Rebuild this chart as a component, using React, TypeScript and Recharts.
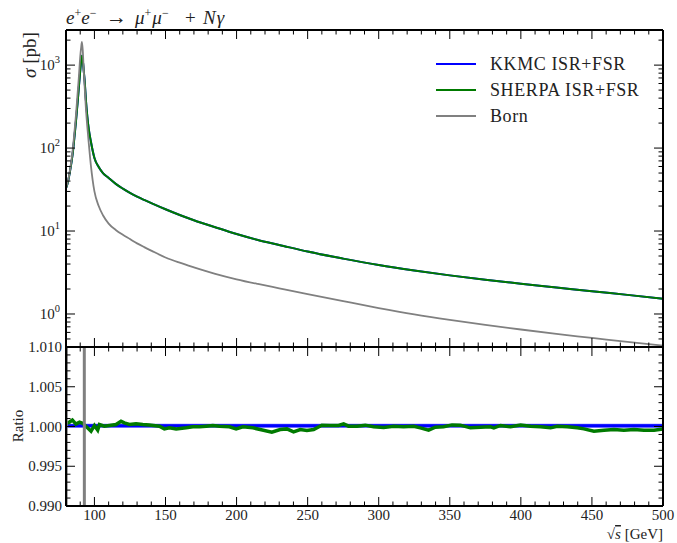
import { LineChart, ComposedChart, Line, Area, XAxis, YAxis, Legend, ReferenceLine } from 'recharts';

const FONT = "'Liberation Serif', 'DejaVu Serif', serif";

// sqrt(s) grid for the cross sections
const energies = [
  80, 81, 82, 83, 84, 85, 86, 87, 88, 89, 90, 90.6, 91.2, 91.8, 92.5, 93.2, 94, 95, 96, 97.5,
  100, 103, 106, 110, 115, 120, 125, 130, 135, 140, 150, 160, 170, 185, 200, 215, 230, 250,
  275, 300, 325, 350, 375, 400, 425, 450, 475, 500,
];
const bornXsec = [
  33, 38, 45, 57, 75, 105, 160, 250, 420, 700, 1250, 1600, 1900, 1500, 850, 520, 300, 180, 115, 62,
  30, 20, 15.5, 12.3, 10.3, 9.0, 8.0, 7.1, 6.4, 5.8, 4.8, 4.15, 3.65, 3.05, 2.62, 2.3, 2.04, 1.74,
  1.43, 1.18, 0.99, 0.85, 0.74, 0.65, 0.575, 0.515, 0.46, 0.415,
];
const sherpaXsec = [
  33, 37, 44, 55, 70, 95, 140, 210, 330, 530, 850, 1100, 1300, 1150, 850, 620, 380, 240, 170, 120,
  76, 59, 50, 43.6, 37, 32.4, 28.8, 26, 23.7, 21.7, 18.3, 15.6, 13.5, 11.1, 9.2, 7.8, 6.8, 5.65,
  4.65, 3.9, 3.35, 2.92, 2.58, 2.32, 2.09, 1.88, 1.7, 1.53,
];
// KKMC and SHERPA agree to the per-mille level, the curves lie on top of each other
const kkmcXsec = sherpaXsec;

// ratio panel
const sherpaRatioX = [
  80, 82, 84.5, 87, 89.5, 91.7, 95.3, 97.6, 100, 102.3, 103.5, 107, 110.5, 115.2, 118.7, 121, 124.6,
  129.3, 134, 138.7, 145.7, 149.2, 152.8, 157.5, 164.5, 169.2, 173.9, 178.6, 183.3, 188, 195, 199.7,
  204.4, 211.5, 216.6, 224.8, 230.7, 235.4, 240.1, 244.8, 249.5, 254.2, 260, 265.9, 271.8, 275.3,
  278.8, 284.7, 290.5, 296.4, 303.5, 310.5, 317.5, 324.6, 329.3, 335.1, 339.8, 345.7, 351.6, 357.4,
  364.5, 371.6, 378.6, 381, 385.7, 392.7, 399.8, 406.8, 413.8, 420.9, 425.6, 432.6, 439.7, 444.4,
  451.4, 458.5, 465.5, 472.5, 479.6, 486.6, 493.7, 500,
];
const sherpaRatio = [
  1.0004, 1.0005, 1.0008, 1.0003, 1.00055, 1.0004, 0.9998, 0.9994, 1.00013, 0.99954, 1.00025, 1.00004,
  1.00013, 1.00025, 1.00067, 1.00046, 1.00025, 1.00034, 1.00025, 1.0002, 1.00004, 0.9997, 0.99983,
  0.9997, 0.99983, 0.99996, 0.99996, 1.00004, 1.00013, 1.00004, 0.99996, 0.9997, 0.99996, 0.99983,
  0.99962, 0.99929, 0.99962, 0.9997, 0.99933, 0.99962, 0.9995, 0.99962, 1.00017, 1.00013, 1.00013,
  1.00034, 1.00004, 1.00004, 1.00017, 0.99996, 0.99987, 1.00004, 0.99996, 1.00004, 0.99983, 0.99954,
  0.99992, 0.99996, 1.0002, 1.00017, 0.99983, 0.99992, 0.99996, 0.99983, 1.00013, 0.99996, 1.0002,
  1.00004, 0.99996, 0.99983, 1.00004, 0.99996, 0.99983, 0.9997, 0.9994, 0.99954, 0.99962, 0.99954,
  0.99962, 0.99954, 0.99954, 0.9997,
];
const kkmcRatioX = [80, 500];
const kkmcRatio = [1.0001, 1.0001];
const kkmcRatioLo = [0.99985, 0.99985];
const kkmcRatioHi = [1.00036, 1.00036];
const bornRatioX = [80, 80.5, 85, 90, 92.5, 92.85, 92.95, 94, 100, 200, 500];
const bornRatio = [0.98, 1.03, 1.2, 1.4, 1.1, 1.02, 0.98, 0.8, 0.5, 0.27, 0.27];

// ticks
const xMinor = [
  90, 110, 120, 130, 140, 160, 170, 180, 190, 210, 220, 230, 240, 260, 270,
  280, 290, 310, 320, 330, 340, 360, 370, 380, 390, 410, 420, 430, 440, 460, 470, 480, 490,
];
const xMajor = [100, 150, 200, 250, 300, 350, 400, 450, 500];
const logMinor = [
  0.5, 0.6, 0.7, 0.8, 0.9, 2, 3, 4, 5, 6, 7, 8, 9, 20, 30, 40, 50, 60, 70, 80, 90,
  200, 300, 400, 500, 600, 700, 800, 900, 2000,
];
const logMajor = [1, 10, 100, 1000];
const logExponents = ['0', '1', '2', '3'];
const ratioMinor = [
  0.991, 0.992, 0.993, 0.994, 0.996, 0.997, 0.998, 0.999,
  1.001, 1.002, 1.003, 1.004, 1.006, 1.007, 1.008, 1.009,
];
const ratioMajor = [0.99, 0.995, 1.0, 1.005, 1.01];
const ratioLabels = ['0.990', '0.995', '1.000', '1.005', '1.010'];

const xsecRows = energies.map((x, i) => ({ x, born: bornXsec[i], sherpa: sherpaXsec[i], kkmc: kkmcXsec[i] }));
const sherpaRows = sherpaRatioX.map((x, i) => ({ x, r: sherpaRatio[i] }));
const kkmcRows = kkmcRatioX.map((x, i) => ({ x, r: kkmcRatio[i], band: [kkmcRatioLo[i], kkmcRatioHi[i]] }));
const bornRows = bornRatioX.map((x, i) => ({ x, r: bornRatio[i] }));

const BLUE = '#0000ff';
const GREEN = '#007a00';
const GREY = '#808080';
const TXT = '#222';
const MAJOR_LEN = 9;
const MINOR_LEN = 4.5;

const noLabel = () => <g />;

const xLabel = (props: any) => (
  <text x={props.x} y={Number(props.y) + 14} textAnchor="middle" fontSize={15} fontFamily={FONT} fill={TXT}>
    {props.payload.value}
  </text>
);

const logLabel = (props: any) => (
  <text x={Number(props.x) - 6} y={Number(props.y) + 5} textAnchor="end" fontSize={15} fontFamily={FONT} fill={TXT}>
    10<tspan dy={-7} fontSize={10.5}>{logExponents[logMajor.indexOf(props.payload.value)]}</tspan>
  </text>
);

const ratioLabel = (props: any) => (
  <text x={Number(props.x) - 4} y={Number(props.y) + 5} textAnchor="end" fontSize={15} fontFamily={FONT} fill={TXT}>
    {ratioLabels[props.index]}
  </text>
);

// inward tick marks: a reference line that only draws its two ends
const vTickShape = (len: number) => (p: any) => {
  const x = Number(p.x1);
  const top = Math.min(Number(p.y1), Number(p.y2));
  const bot = Math.max(Number(p.y1), Number(p.y2));
  return (
    <g>
      <line x1={x} x2={x} y1={top} y2={top + len} stroke="#000" strokeWidth={1} />
      <line x1={x} x2={x} y1={bot} y2={bot - len} stroke="#000" strokeWidth={1} />
    </g>
  );
};
const hTickShape = (len: number) => (p: any) => {
  const y = Number(p.y1);
  const lft = Math.min(Number(p.x1), Number(p.x2));
  const rgt = Math.max(Number(p.x1), Number(p.x2));
  return (
    <g>
      <line x1={lft} x2={lft + len} y1={y} y2={y} stroke="#000" strokeWidth={1} />
      <line x1={rgt} x2={rgt - len} y1={y} y2={y} stroke="#000" strokeWidth={1} />
    </g>
  );
};

const xTickMarks = () => [
  ...xMinor.map((v) => (
    <ReferenceLine key={`xm${v}`} xAxisId="bot" yAxisId="l" x={v} shape={vTickShape(MINOR_LEN)} />
  )),
  ...xMajor.map((v) => (
    <ReferenceLine key={`xM${v}`} xAxisId="bot" yAxisId="l" x={v} shape={vTickShape(MAJOR_LEN)} />
  )),
];
const yTickMarks = (minorVals: number[], majorVals: number[]) => [
  ...minorVals.map((v) => (
    <ReferenceLine key={`ym${v}`} xAxisId="bot" yAxisId="l" y={v} shape={hTickShape(MINOR_LEN)} />
  )),
  ...majorVals.map((v) => (
    <ReferenceLine key={`yM${v}`} xAxisId="bot" yAxisId="l" y={v} shape={hTickShape(MAJOR_LEN)} />
  )),
];

const LegendBox = ({ payload }: any) => (
  <div style={{ fontFamily: FONT, fontSize: 18, color: TXT, letterSpacing: 0.6 }}>
    {(payload || []).map((p: any) => (
      <div key={p.value} style={{ display: 'flex', alignItems: 'center', height: 26 }}>
        <span style={{ display: 'inline-block', width: 40, height: 2, background: p.color, marginRight: 14 }} />
        <span>{p.value}</span>
      </div>
    ))}
  </div>
);

const frame = { stroke: '#000', strokeWidth: 2 };
const axisCommon = { tickSize: 0, tickMargin: 0, tickLine: false, interval: 0 as const, axisLine: frame };

export default function App() {
  return (
    <div style={{ position: 'absolute', left: 0, top: 0, width: 677, height: 543, background: '#fff' }}>
      <LineChart
        width={677}
        height={347}
        data={xsecRows}
        margin={{ top: 0, right: 0, bottom: 0, left: 0 }}
        style={{ position: 'absolute', left: 0, top: 0 }}
      >
        <XAxis xAxisId="top" orientation="top" type="number" dataKey="x" domain={[80, 500]} allowDataOverflow
          ticks={xMajor} height={30} tick={noLabel} {...axisCommon} />
        <XAxis xAxisId="bot" type="number" dataKey="x" domain={[80, 500]} allowDataOverflow
          ticks={xMajor} height={0} tick={noLabel} {...axisCommon} />
        <YAxis yAxisId="l" scale="log" type="number" domain={[0.4, 2650]} allowDataOverflow
          ticks={logMajor} width={66} tick={logLabel} {...axisCommon} />
        <YAxis yAxisId="r" orientation="right" scale="log" type="number" domain={[0.4, 2650]} allowDataOverflow
          ticks={logMajor} width={14} tick={noLabel} {...axisCommon} />
        <Line xAxisId="bot" yAxisId="l" dataKey="kkmc" name="KKMC ISR+FSR" type="monotone" stroke={BLUE}
          strokeWidth={2} dot={false} isAnimationActive={false} />
        <Line xAxisId="bot" yAxisId="l" dataKey="sherpa" name="SHERPA ISR+FSR" type="monotone" stroke={GREEN}
          strokeWidth={2} dot={false} isAnimationActive={false} />
        <Line xAxisId="bot" yAxisId="l" dataKey="born" name="Born" type="monotone" stroke={GREY}
          strokeWidth={1.8} dot={false} isAnimationActive={false} />
        {xTickMarks()}
        {yTickMarks(logMinor, logMajor)}
        <Legend layout="vertical" align="center" verticalAlign="middle" content={LegendBox}
          itemSorter={null as any}
          wrapperStyle={{ position: 'absolute', left: 436, top: 51, width: 230, height: 80 }} />
      </LineChart>

      <ComposedChart
        width={677}
        height={543}
        margin={{ top: 0, right: 0, bottom: 0, left: 0 }}
        style={{ position: 'absolute', left: 0, top: 0 }}
      >
        <XAxis xAxisId="top" orientation="top" type="number" dataKey="x" domain={[80, 500]} allowDataOverflow
          ticks={xMajor} height={347} tick={noLabel} {...axisCommon} />
        <XAxis xAxisId="bot" type="number" dataKey="x" domain={[80, 500]} allowDataOverflow
          ticks={xMajor} height={37} tick={xLabel} {...axisCommon} />
        <YAxis yAxisId="l" type="number" domain={[0.99, 1.01]} allowDataOverflow
          ticks={ratioMajor} width={66} tick={ratioLabel} {...axisCommon} />
        <YAxis yAxisId="r" orientation="right" type="number" domain={[0.99, 1.01]} allowDataOverflow
          ticks={ratioMajor} width={14} tick={noLabel} {...axisCommon} />
        <Area xAxisId="bot" yAxisId="l" data={kkmcRows} dataKey="band" type="linear" stroke="none"
          fill="#6f6fff" fillOpacity={1} isAnimationActive={false} />
        <Line xAxisId="bot" yAxisId="l" data={kkmcRows} dataKey="r" type="linear" stroke={BLUE}
          strokeWidth={3} dot={false} isAnimationActive={false} />
        <Line xAxisId="bot" yAxisId="l" data={sherpaRows} dataKey="r" type="linear" stroke={GREEN}
          strokeWidth={3.5} dot={false} isAnimationActive={false} />
        <Line xAxisId="bot" yAxisId="l" data={bornRows} dataKey="r" type="linear" stroke={GREY}
          strokeWidth={3} dot={false} isAnimationActive={false} />
        {xTickMarks()}
        {yTickMarks(ratioMinor, ratioMajor)}
      </ComposedChart>

      <svg width={677} height={543} style={{ position: 'absolute', left: 0, top: 0, pointerEvents: 'none' }}>
        <text y={24} fontSize={19} fontFamily={FONT} fill={TXT}>
          <tspan x={66} fontStyle="italic">e</tspan><tspan dy={-7} fontSize={12}>+</tspan>
          <tspan dy={7} fontStyle="italic">e</tspan><tspan dy={-7} fontSize={12}>−</tspan>
          <tspan x={106} dy={7} fontSize={21}>→</tspan>
          <tspan x={135} fontStyle="italic">μ</tspan><tspan dy={-7} fontSize={12}>+</tspan>
          <tspan dx={1} dy={7} fontStyle="italic">μ</tspan><tspan dy={-7} fontSize={12}>−</tspan>
          <tspan x={185} dy={7}>+</tspan>
          <tspan x={203} fontStyle="italic">N</tspan><tspan dx={1} fontStyle="italic">γ</tspan>
        </text>
        <text x={36} y={55} transform="rotate(-90 36 55)" textAnchor="middle" fontSize={19} fontFamily={FONT} fill={TXT}>
          <tspan fontStyle="italic">σ</tspan> [pb]
        </text>
        <text x={23} y={426} transform="rotate(-90 23 426)" textAnchor="middle" fontSize={15} fontFamily={FONT} fill={TXT}>
          Ratio
        </text>
        <text x={663} y={539} textAnchor="end" fontSize={15} fontFamily={FONT} fill={TXT}>
          √<tspan fontStyle="italic" textDecoration="overline">s</tspan> [GeV]
        </text>
      </svg>
    </div>
  );
}
